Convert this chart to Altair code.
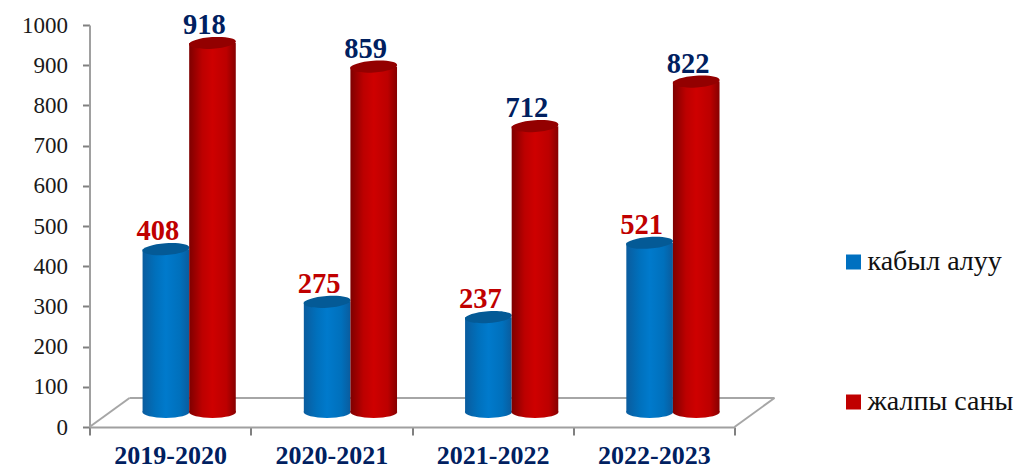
import altair as alt
import pandas as pd

years = ["2019-2020", "2020-2021", "2021-2022", "2022-2023"]
series_names = ["кабыл алуу", "жалпы саны"]
# printed data labels
admitted_labels = [408, 275, 237, 521]
total_labels = [918, 859, 712, 822]
# heights the cylinders are actually drawn at in the picture
admitted_heights = [405, 274, 236, 421]
total_heights = [918, 859, 711, 822]
series_colors = ["#0070C0", "#C00000"]
label_colors = {"кабыл алуу": "#C00000", "жалпы саны": "#002060"}
y_ticks = list(range(0, 1001, 100))

rows = []
for i, yr in enumerate(years):
    rows.append({"year": yr, "series": series_names[0], "value": admitted_heights[i],
                 "label": admitted_labels[i], "zero": 0})
    rows.append({"year": yr, "series": series_names[1], "value": total_heights[i],
                 "label": total_labels[i], "zero": 0})
df = pd.DataFrame(rows)

SERIF = "Liberation Serif"
ELLIPSE = "M-1,0 A1,0.25 0 1 1 1,0 A1,0.25 0 1 1 -1,0 Z"
DY = -15


def grad(edge1, mid1, mid2, mid3, edge2):
    return alt.Gradient(
        gradient="linear", x1=0, x2=1, y1=0, y2=0,
        stops=[
            alt.GradientStop(color=edge1, offset=0),
            alt.GradientStop(color=mid1, offset=0.28),
            alt.GradientStop(color=mid2, offset=0.5),
            alt.GradientStop(color=mid3, offset=0.8),
            alt.GradientStop(color=edge2, offset=1),
        ],
    )


fills = {
    series_names[0]: grad("#0A5C9E", "#0070BC", "#007ACC", "#0070BC", "#0A5C9E"),
    series_names[1]: grad("#7E0000", "#BC0000", "#CE0000", "#BC0000", "#860000"),
}
caps = {series_names[0]: "#045A96", series_names[1]: "#930000"}

x_enc = alt.X(
    "year:N", sort=years, title=None,
    scale=alt.Scale(paddingInner=0, paddingOuter=0),
    axis=alt.Axis(
        labelAngle=0, tickBand="extent", labelFont=SERIF, labelFontSize=26,
        labelFontWeight="bold", labelColor="#002060", labelPadding=7,
        domainColor="#A0A0A0", domainWidth=2, tickColor="#808080", tickWidth=2,
        tickSize=8, grid=False,
    ),
)
xo_enc = alt.XOffset(
    "series:N", sort=series_names,
    scale=alt.Scale(domain=series_names, paddingInner=0, paddingOuter=0.73, align=0.78),
)
y_enc = alt.Y(
    "value:Q", title=None,
    scale=alt.Scale(domain=[0, 1000], nice=False),
    axis=alt.Axis(
        values=y_ticks, format="d", labelFont=SERIF, labelFontSize=23,
        labelColor="#1A1A1A", labelPadding=15, domainColor="#A0A0A0", domainWidth=2,
        tickColor="#808080", tickWidth=2, tickSize=7, grid=False,
    ),
)

base = alt.Chart(df).encode(x=x_enc, xOffset=xo_enc, y=y_enc)
blank = alt.Chart(alt.Data(values=[{"k": 1}]))
floor_style = dict(color="#A6A6A6", strokeWidth=2)

layers = [
    blank.mark_rule(**floor_style).encode(
        x=alt.value(0), x2=alt.value(40), y=alt.value(402), y2=alt.value(373)),
    blank.mark_rule(**floor_style).encode(
        x=alt.value(40), x2=alt.value(685), y=alt.value(373)),
    blank.mark_rule(**floor_style).encode(
        x=alt.value(685), x2=alt.value(645), y=alt.value(373), y2=alt.value(402)),
    base.mark_square(opacity=0, size=1).encode(
        color=alt.Color(
            "series:N", sort=series_names,
            scale=alt.Scale(domain=series_names, range=series_colors),
            legend=alt.Legend(
                title=None, orient="none", legendX=750, legendY=223,
                symbolType="square", symbolSize=225, symbolOpacity=1,
                symbolStrokeWidth=0, labelFont=SERIF, labelFontSize=28,
                labelColor="#111111", rowPadding=112, labelOffset=0, labelLimit=220,
            ),
        )
    ),
]

for s in series_names:
    sub = base.transform_filter(alt.datum.series == s)
    layers += [
        sub.mark_point(shape=ELLIPSE, size=2209, filled=True, opacity=1, strokeWidth=0,
                       fill=fills[s], yOffset=DY).encode(y=alt.Y("zero:Q")),
        sub.mark_bar(fill=fills[s], yOffset=DY, y2Offset=DY),
        sub.mark_point(shape=ELLIPSE, size=2209, filled=True, opacity=1, strokeWidth=0,
                       fill=caps[s], yOffset=DY, angle=356),
    ]

for s in series_names:
    sub = base.transform_filter(alt.datum.series == s)
    layers.append(
        sub.mark_text(
            font=SERIF, fontSize=28.5, fontWeight="bold", color=label_colors[s],
            baseline="alphabetic", dx=-8, yOffset=DY - 9,
        ).encode(text="label:Q")
    )

chart = (
    alt.layer(*layers)
    .properties(
        width=645, height=402,
        autosize=alt.AutoSizeParams(type="none"),
        padding={"left": 81.5, "top": 17, "right": 280, "bottom": 42},
        background="white",
    )
    .configure_view(stroke=None)
)
chart.save("out.html", embed_options={"renderer": "svg", "actions": False})
